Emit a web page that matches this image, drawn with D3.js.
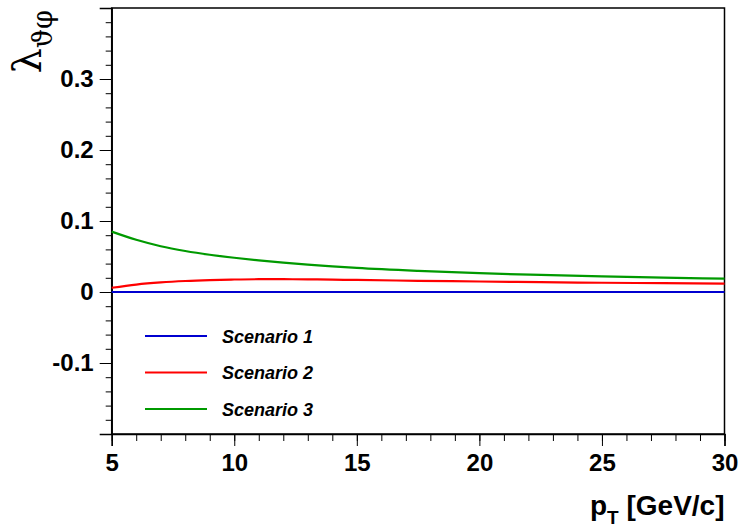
<!DOCTYPE html>
<html>
<head>
<meta charset="utf-8">
<script src="https://cdn.jsdelivr.net/npm/d3@7"></script>
<style>
  body { margin: 0; background: #fff; }
  svg { display: block; }
</style>
</head>
<body>
<div id="chart"></div>
<script>
// values
var ptValues = [5, 6, 7, 8, 9, 10, 11, 12, 13, 14, 15, 17.5, 20, 22.5, 25, 27.5, 30];
var scenario1 = [0, 0, 0, 0, 0, 0, 0, 0, 0, 0, 0, 0, 0, 0, 0, 0, 0];
var scenario2 = [0.006, 0.0105, 0.0135, 0.0155, 0.0168, 0.0176, 0.018, 0.018, 0.0178, 0.0174, 0.017, 0.0158, 0.0148, 0.0138, 0.013, 0.0124, 0.0118];
var scenario3 = [0.085, 0.0735, 0.0645, 0.0578, 0.0525, 0.0482, 0.0445, 0.0413, 0.0385, 0.0362, 0.034, 0.0298, 0.0265, 0.024, 0.0219, 0.0202, 0.0188];
var seriesNames = ["Scenario 1", "Scenario 2", "Scenario 3"];
var seriesColors = ["#0000d0", "#ff0000", "#009a00"];
var xTicks = [5, 10, 15, 20, 25, 30];
var yTicks = [-0.1, 0, 0.1, 0.2, 0.3];

var width = 740, height = 528;
var margin = {top: 8, right: 15.5, bottom: 94, left: 111.7};

var svg = d3.select("#chart").append("svg")
    .attr("width", width)
    .attr("height", height);

var x = d3.scaleLinear().domain([5, 30]).range([margin.left, width - margin.right]);
var y = d3.scaleLinear().domain([-0.2, 0.4]).range([height - margin.bottom, margin.top]);

var font = "'Liberation Sans', Arial, Helvetica, sans-serif";

// frame
svg.append("rect")
    .attr("x", x(5)).attr("y", y(0.4))
    .attr("width", x(30) - x(5)).attr("height", y(-0.2) - y(0.4))
    .attr("fill", "none")
    .attr("stroke", "#000")
    .attr("stroke-width", 1.5);

// x axis: major + minor
var xMinor = d3.range(5, 30.01, 1);
svg.append("g")
    .attr("transform", "translate(0," + y(-0.2) + ")")
    .call(d3.axisBottom(x).tickValues(xMinor).tickSize(7).tickFormat(""))
    .call(g => g.select(".domain").remove());
svg.append("g")
    .attr("transform", "translate(0," + y(-0.2) + ")")
    .call(d3.axisBottom(x).tickValues(xTicks).tickSize(12).tickPadding(8).tickFormat(d3.format("d")))
    .call(g => g.select(".domain").attr("stroke-width", 1.5))
    .call(g => g.selectAll("text")
        .attr("font-family", font).attr("font-weight", "bold")
        .attr("font-size", "24px").attr("fill", "#000"));

// y axis: major + minor
var yMinor = d3.range(-0.2, 0.4001, 0.02);
svg.append("g")
    .attr("transform", "translate(" + x(5) + ",0)")
    .call(d3.axisLeft(y).tickValues(yMinor).tickSize(6).tickFormat(""))
    .call(g => g.select(".domain").remove());
svg.append("g")
    .attr("transform", "translate(" + x(5) + ",0)")
    .call(d3.axisLeft(y).tickValues(yTicks).tickSize(12).tickPadding(6)
        .tickFormat(d => d === 0 ? "0" : d3.format(".1f")(d).replace("\u2212", "-")))
    .call(g => g.select(".domain").attr("stroke-width", 1.5))
    .call(g => g.selectAll("text")
        .attr("font-family", font).attr("font-weight", "bold")
        .attr("font-size", "24px").attr("fill", "#000"));

// x title
var xt = svg.append("text")
    .attr("x", x(30)).attr("y", 515)
    .attr("text-anchor", "end")
    .attr("font-family", font).attr("font-weight", "bold")
    .attr("font-size", "28px");
xt.append("tspan").text("p");
xt.append("tspan").attr("font-size", "19px").attr("dy", 9).text("T");
xt.append("tspan").attr("dy", -9).text(" [GeV/c]");

// y title
var yt = svg.append("text")
    .attr("transform", "translate(41,10) rotate(-90)")
    .attr("text-anchor", "end")
    .attr("font-family", "'DejaVu Serif', 'Liberation Serif', serif")
    .attr("font-size", "40px");
yt.append("tspan").text("λ");
yt.append("tspan").attr("font-size", "27px").attr("dy", 11).text("ϑφ");

// curves
var allSeries = [scenario1, scenario2, scenario3];
var line = d3.line()
    .x((d, i) => x(ptValues[i]))
    .y(d => y(d))
    .curve(d3.curveMonotoneX);

svg.selectAll(".curve")
    .data(allSeries)
    .enter()
    .append("path")
    .attr("class", "curve")
    .attr("d", line)
    .attr("fill", "none")
    .attr("stroke", (d, i) => seriesColors[i])
    .attr("stroke-width", 2.2);

// legend
var legendY = [336, 372.5, 409];
var legend = svg.selectAll(".leg")
    .data(seriesNames)
    .enter()
    .append("g")
    .attr("class", "leg")
    .attr("transform", (d, i) => "translate(145," + legendY[i] + ")");
legend.append("line")
    .attr("x1", 0).attr("x2", 62)
    .attr("stroke", (d, i) => seriesColors[i])
    .attr("stroke-width", 2.2);
legend.append("text")
    .attr("x", 77).attr("y", 6.5)
    .attr("font-family", font).attr("font-weight", "bold").attr("font-style", "italic")
    .attr("font-size", "18px")
    .text(d => d);
</script>
</body>
</html>
